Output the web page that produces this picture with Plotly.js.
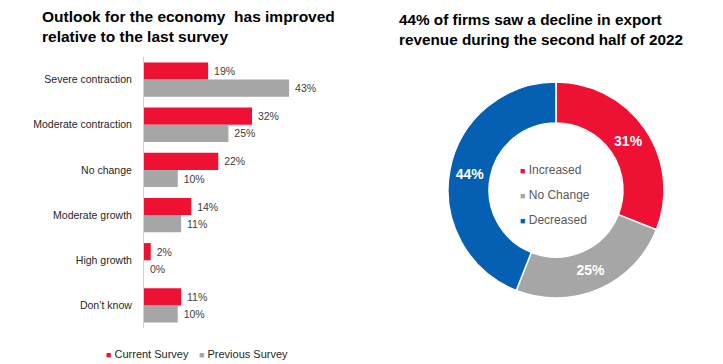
<!DOCTYPE html>
<html>
<head>
<meta charset="utf-8">
<script src="https://cdn.plot.ly/plotly-3.0.1.min.js"></script>
<style>html,body{margin:0;padding:0;background:#fff;}#chart{width:723px;height:364px;}</style>
</head>
<body>
<div id="chart"></div>
<script>
// Left panel: outlook for the economy
const outlookCategories = ["Severe contraction", "Moderate contraction", "No change", "Moderate growth", "High growth", "Don\u2019t know"];
const currentSurvey = [19, 32, 22, 14, 2, 11];
const previousSurvey = [43, 25, 10, 11, 0, 10];
const seriesNames = ["Current Survey", "Previous Survey"];

// Right panel: export revenue change
const revenueLabels = ["Increased", "No Change", "Decreased"];
const revenueValues = [31, 25, 44];

const RED = "#EE1133";
const GRAY = "#A6A6A6";
const BLUE = "#0560B3";
const FONT = "Liberation Sans, Arial, sans-serif";
const W = 723, H = 364;
const px = v => v / W;
const py = v => 1 - v / H;

const barText = {size: 10.5, color: "#404040", family: FONT};
const barColors = [RED, GRAY];
const barSeries = [currentSurvey, previousSurvey];

const traces = barSeries.map((vals, i) => ({
  type: "bar", orientation: "h", name: seriesNames[i],
  y: outlookCategories, x: vals,
  marker: {color: barColors[i]},
  texttemplate: " %{x}%", textposition: "outside", textfont: barText,
  cliponaxis: false, hoverinfo: "x+y", showlegend: false
}));

traces.push({
  type: "pie", labels: revenueLabels, values: revenueValues,
  hole: 0.62, sort: false, direction: "clockwise", rotation: 0,
  marker: {colors: [RED, GRAY, BLUE], line: {color: "#ffffff", width: 1.5}},
  texttemplate: "%{value}%", textposition: "inside", insidetextorientation: "horizontal",
  textfont: {size: 14, color: "#ffffff", family: FONT, weight: "bold"},
  domain: {x: [px(448), px(664)], y: [py(298), py(82)]},
  showlegend: false
});

const annotations = [
  {
    xref: "paper", yref: "paper", x: px(40), y: py(6), xanchor: "left", yanchor: "top",
    align: "left", showarrow: false,
    text: "<b>Outlook for the economy  has improved<br>relative to the last survey</b>",
    font: {size: 15.5, color: "#000000", family: FONT}
  },
  {
    xref: "paper", yref: "paper", x: px(397), y: py(9), xanchor: "left", yanchor: "top",
    align: "left", showarrow: false,
    text: "<b>44% of firms saw a decline in export<br>revenue during the second half of 2022</b>",
    font: {size: 15.3, color: "#000000", family: FONT}
  }
];

// Donut legend (inside the hole)
const pieColors = [RED, GRAY, BLUE];
revenueLabels.forEach((lab, i) => {
  annotations.push({
    xref: "paper", yref: "paper", x: px(518), y: py(170 + i * 25), xanchor: "left", yanchor: "middle",
    showarrow: false,
    text: '<span style="color:' + pieColors[i] + ';font-size:9px">\u25A0</span> ' + lab,
    font: {size: 12, color: "#595959", family: FONT}
  });
});

// Bar legend (bottom)
const barLegendX = [104, 197];
seriesNames.forEach((name, i) => {
  annotations.push({
    xref: "paper", yref: "paper", x: px(barLegendX[i]), y: py(354), xanchor: "left", yanchor: "middle",
    showarrow: false,
    text: '<span style="color:' + barColors[i] + ';font-size:9px">\u25A0</span> ' + name,
    font: {size: 11, color: "#262626", family: FONT}
  });
});

const layout = {
  width: W, height: H,
  margin: {l: 0, r: 0, t: 0, b: 0},
  paper_bgcolor: "#ffffff", plot_bgcolor: "#ffffff",
  font: {family: FONT, color: "#262626", size: 11},
  barmode: "group", bargap: 0.24, bargroupgap: 0,
  xaxis: {
    domain: [px(144), px(306)], range: [0, 48],
    showgrid: false, zeroline: false, showticklabels: false, showline: false, ticks: "", fixedrange: true
  },
  yaxis: {
    domain: [py(328), py(57)], autorange: "reversed", type: "category",
    showgrid: false, zeroline: false, showline: true, linecolor: "#D0D0D0", linewidth: 1,
    ticks: "", ticklabelstandoff: 9,
    tickfont: {size: 10.5, color: "#262626"}, fixedrange: true
  },
  showlegend: false,
  annotations: annotations
};

Plotly.newPlot("chart", traces, layout, {displayModeBar: false, staticPlot: true});
</script>
</body>
</html>
